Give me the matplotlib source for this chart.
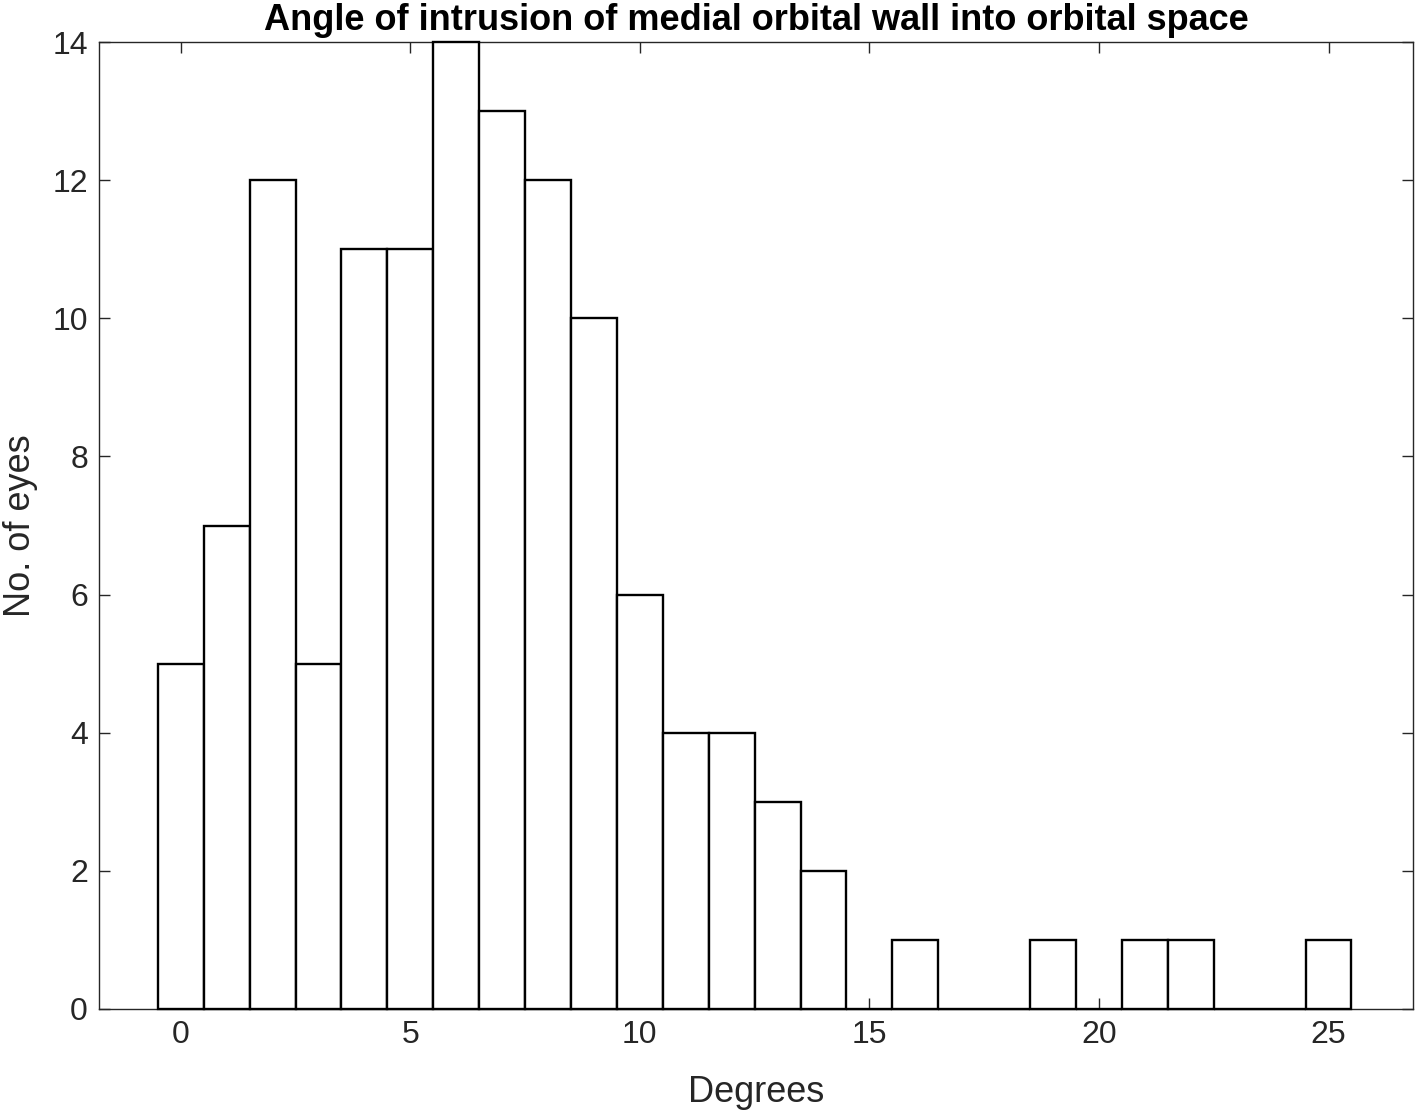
import matplotlib
matplotlib.use("Agg")
import matplotlib.pyplot as plt
import numpy as np

plt.rcParams['font.family'] = ['Liberation Sans', 'DejaVu Sans']

bin_centers = list(range(0, 26))
counts = [5, 7, 12, 5, 11, 11, 14, 13, 12, 10, 6, 4, 4, 3, 2, 0, 1, 0, 0, 1, 0, 1, 1, 0, 0, 1]
x_ticks = [0, 5, 10, 15, 20, 25]
y_ticks = [0, 2, 4, 6, 8, 10, 12, 14]

fig = plt.figure(figsize=(14.16, 11.13), dpi=100)
ax = fig.add_axes([99/1416, 1 - 1009/1113, (1413 - 99)/1416, (1009 - 42)/1113])

bars = ax.bar(bin_centers, counts, width=1.0, color='white', edgecolor='black',
              linewidth=1.7, zorder=3)
for b in bars:
    b.set_clip_on(False)

ax.set_xlim(-1.78, 26.84)
ax.set_ylim(0, 14)
ax.set_xticks(x_ticks)
ax.set_yticks(y_ticks)
ax.tick_params(direction='in', length=8, width=1, colors='#262626', labelsize=23,
               top=True, right=True, pad=8, labelcolor='#262626')
for s in ax.spines.values():
    s.set_color('#262626')
    s.set_linewidth(1.0)

ax.set_title('Angle of intrusion of medial orbital wall into orbital space',
             fontsize=26, fontweight='bold', pad=9)
ax.set_xlabel('Degrees', fontsize=26, color='#262626', labelpad=18)
ax.set_ylabel('No. of eyes', fontsize=26, color='#262626', labelpad=10)

fig.savefig('out.png', dpi=100)
